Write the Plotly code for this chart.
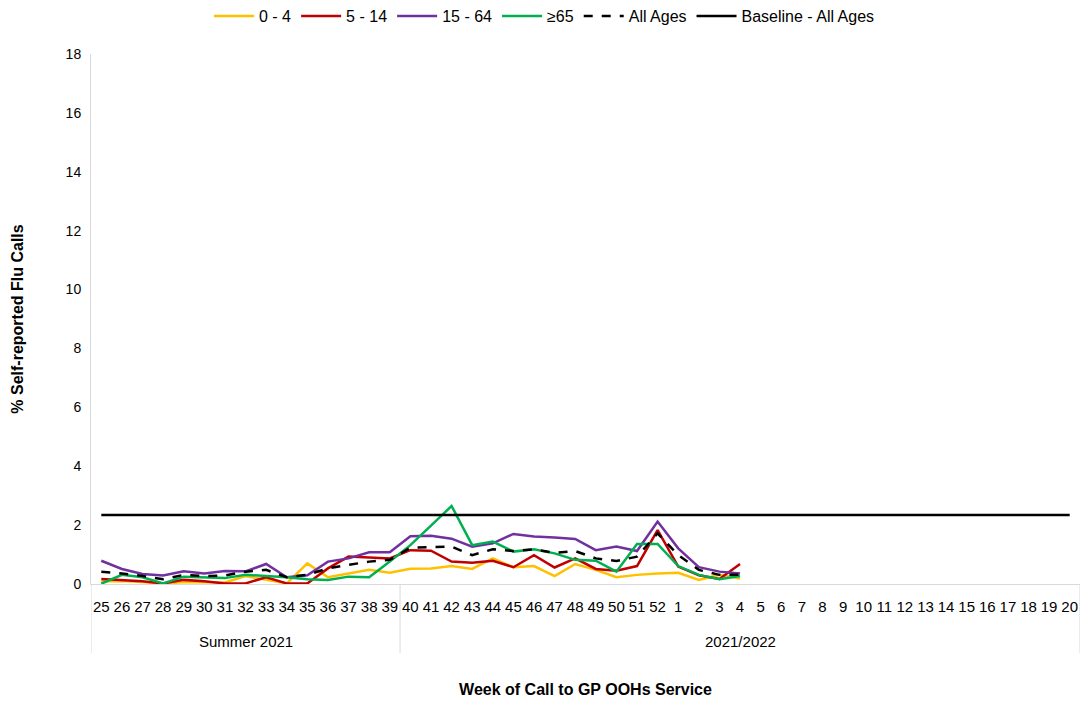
import plotly.graph_objects as go

weeks = [str(w) for w in range(25, 53)] + [str(w) for w in range(1, 21)]
groups = ["Summer 2021"] * 15 + ["2021/2022"] * 33

# Data to week 4 (32 points)
age_0_4 = [0.09, 0.10, 0.07, 0.00, 0.07, 0.07, 0.05, 0.27, 0.14, 0.02, 0.70, 0.23, 0.36, 0.48, 0.38,
           0.52, 0.53, 0.61, 0.51, 0.87, 0.57, 0.61, 0.27, 0.68, 0.48, 0.23, 0.31, 0.36, 0.38, 0.14, 0.31, 0.19]
age_5_14 = [0.17, 0.14, 0.09, 0.02, 0.14, 0.09, 0.02, 0.02, 0.23, 0.02, 0.02, 0.53, 0.93, 0.90, 0.87,
            1.15, 1.13, 0.76, 0.72, 0.79, 0.57, 0.98, 0.56, 0.87, 0.51, 0.45, 0.61, 1.83, 0.59, 0.30, 0.17, 0.68]
age_15_64 = [0.79, 0.51, 0.34, 0.29, 0.43, 0.36, 0.44, 0.43, 0.68, 0.23, 0.30, 0.76, 0.87, 1.08, 1.08,
             1.62, 1.64, 1.54, 1.27, 1.38, 1.70, 1.61, 1.58, 1.53, 1.15, 1.27, 1.12, 2.12, 1.21, 0.57, 0.42, 0.36]
age_65 = [0.01, 0.31, 0.23, 0.02, 0.25, 0.23, 0.20, 0.31, 0.27, 0.23, 0.16, 0.14, 0.25, 0.23, 0.76,
          1.32, 1.98, 2.65, 1.32, 1.44, 1.10, 1.18, 1.04, 0.82, 0.79, 0.42, 1.36, 1.36, 0.61, 0.31, 0.16, 0.27]
all_ages = [0.42, 0.36, 0.27, 0.16, 0.31, 0.27, 0.29, 0.42, 0.48, 0.23, 0.31, 0.53, 0.65, 0.76, 0.82,
            1.23, 1.25, 1.27, 0.98, 1.18, 1.12, 1.18, 1.06, 1.12, 0.87, 0.78, 0.93, 1.72, 0.98, 0.48, 0.31, 0.31]
baseline = [2.34] * 48

n = len(age_0_4)

fig = go.Figure()
series = [
    ("0 - 4", age_0_4, "#FFC000", "solid", weeks[:n]),
    ("5 - 14", age_5_14, "#C00000", "solid", weeks[:n]),
    ("15 - 64", age_15_64, "#7030A0", "solid", weeks[:n]),
    ("≥65", age_65, "#00B050", "solid", weeks[:n]),
    ("All Ages", all_ages, "#000000", "dash", weeks[:n]),
    ("Baseline - All Ages", baseline, "#000000", "solid", weeks),
]
for name, vals, col, dash, xx in series:
    fig.add_trace(go.Scatter(x=xx, y=vals, name=name, mode="lines",
                             line=dict(color=col, width=2.5, dash=dash)))

# Group labels and dividers under the category axis
bounds = [0] + [i for i in range(1, len(groups)) if groups[i] != groups[i - 1]] + [len(groups)]
for a, b in zip(bounds[:-1], bounds[1:]):
    fig.add_annotation(x=(a + b - 1) / 2, xref="x", y=-0.1094, yref="paper", yanchor="middle",
                       text=groups[a], showarrow=False, font=dict(size=15))
for bd in bounds:
    fig.add_shape(type="line", xref="x", yref="paper", x0=bd - 0.5, x1=bd - 0.5, y0=0, y1=-0.13,
                  line=dict(color="#D9D9D9", width=1))

font = "Liberation Sans, Arial, sans-serif"
W, H = 1073, 690  # page body has an 8px margin; avoid overflow
fig.update_layout(
    width=W, height=H,
    margin=dict(l=83, r=1, t=46, b=114, autoexpand=False),
    plot_bgcolor="white", paper_bgcolor="white",
    font=dict(family=font, size=14, color="#000000"),
    legend=dict(orientation="h", x=0.5, xanchor="center", xref="container",
                y=1 - 8 / H, yanchor="middle", yref="container",
                font=dict(size=16), traceorder="normal", itemwidth=40),
    showlegend=True,
)
fig.update_xaxes(type="category", range=[-0.5, len(weeks) - 0.5],
                 showline=True, linecolor="#D9D9D9", linewidth=1, showgrid=False,
                 ticklabelstandoff=9, tickfont=dict(size=15), tickangle=0, automargin=False,
                 title=dict(text="<b>Week of Call to GP OOHs Service</b>", font=dict(size=16), standoff=73))
fig.update_yaxes(range=[0, 18], dtick=2, showgrid=False, showline=True, linecolor="#D9D9D9",
                 zeroline=False, tickfont=dict(size=14), automargin=False, ticklabelstandoff=6,
                 title=dict(text="<b>% Self-reported Flu Calls</b>", font=dict(size=16), standoff=38))

fig.write_html("out.html", post_script="document.body.style.overflow='hidden';")
